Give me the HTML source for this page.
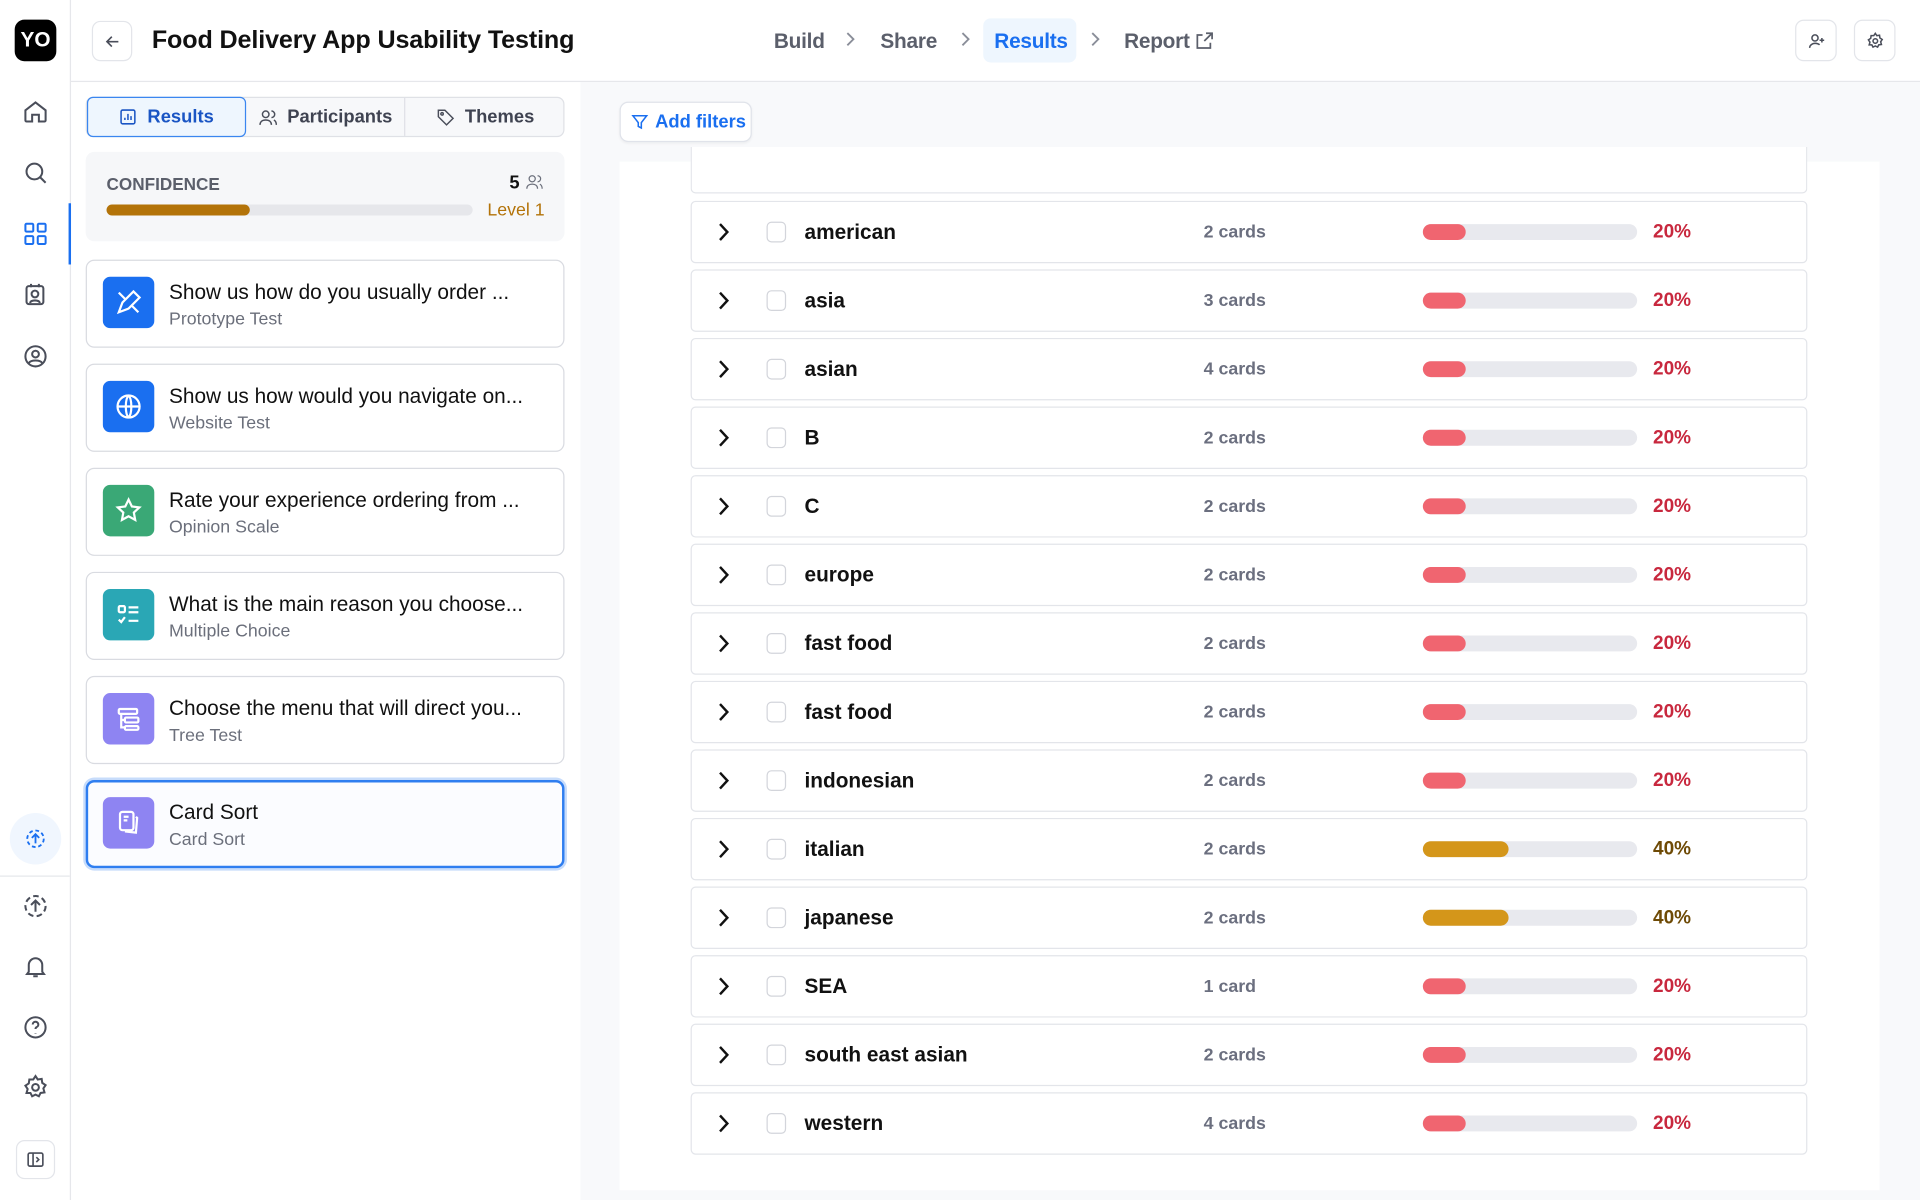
<!DOCTYPE html>
<html><head><meta charset="utf-8"><style>
*{box-sizing:border-box;margin:0;padding:0}
html,body{width:1920px;height:1200px;overflow:hidden;background:#fff}
body{font-family:"Liberation Sans",sans-serif;color:#111}
#w{position:absolute;left:0;top:0;width:1568px;height:980px;transform:scale(1.22449);transform-origin:0 0;background:#fff}
.a{position:absolute}
.ic{position:absolute;width:22px;height:22px}
.tab{position:absolute;top:79px;height:33px;font-size:15px;font-weight:bold;color:#3f4351;display:flex;align-items:center;justify-content:center;gap:8px}
.card{position:absolute;left:70px;width:391px;height:72px;border:1px solid #d9dbe1;border-radius:7px;background:#fff}
.card .sq{position:absolute;left:13px;top:13px;width:42px;height:42px;border-radius:6px;display:flex;align-items:center;justify-content:center}
.card .t{position:absolute;left:67px;top:16px;font-size:17px;color:#111;white-space:nowrap}
.card .s{position:absolute;left:67px;top:40px;font-size:14.5px;color:#6b6f7b}
.row{position:absolute;left:564px;width:912px;height:51px;border:1px solid #e3e5ea;border-radius:4px;background:#fff}
.row .ch{position:absolute;left:20px;top:16px}
.row .cb{position:absolute;left:61px;top:16px;width:16px;height:17px;border:1px solid #d3d5db;border-radius:4px}
.row .n{position:absolute;left:92px;top:15px;font-size:17px;font-weight:bold;color:#111}
.row .c{position:absolute;left:418px;top:17px;font-size:14.5px;font-weight:bold;color:#6b6f7f}
.row .bar{position:absolute;left:597px;top:18px;width:175px;height:13px;border-radius:7px;background:#e8e9ee}
.row .bar i{position:absolute;left:0;top:0;height:13px;border-radius:7px}
.row .p{position:absolute;left:785px;top:16px;font-size:15.5px;font-weight:bold}
.sep{position:absolute;top:24px;width:10px;height:16px}
</style></head><body><div id="w">
<div class="a" style="left:57px;top:0;width:1px;height:980px;background:#e6e7eb"></div>
<div class="a" style="left:12px;top:16px;width:34px;height:34px;background:#000;border-radius:8px;color:#fff;font-weight:bold;font-size:17px;display:flex;align-items:center;justify-content:center">YO</div>
<svg class="ic" style="left:18px;top:80px" viewBox="0 0 24 24" fill="none" stroke="#4a4e5a" stroke-width="1.8"><path d="M3 11l9-7 9 7v9a1 1 0 0 1-1 1h-5v-6h-6v6H4a1 1 0 0 1-1-1z"/></svg>
<svg class="ic" style="left:18px;top:130px" viewBox="0 0 24 24" fill="none" stroke="#4a4e5a" stroke-width="1.8"><circle cx="11" cy="11" r="7"/><path d="M16 16l5 5"/></svg>
<svg class="ic" style="left:18px;top:180px" viewBox="0 0 24 24" fill="none" stroke="#1a6ff0" stroke-width="1.8"><rect x="3" y="3" width="7" height="7" rx="1"/><rect x="14" y="3" width="7" height="7" rx="1"/><rect x="3" y="14" width="7" height="7" rx="1"/><rect x="14" y="14" width="7" height="7" rx="1"/></svg>
<div class="a" style="left:56px;top:166px;width:2px;height:50px;background:#1a6ff0"></div>
<svg class="ic" style="left:18px;top:230px" viewBox="0 0 24 24" fill="none" stroke="#4a4e5a" stroke-width="1.8"><rect x="4" y="4" width="15" height="16" rx="2"/><circle cx="11.5" cy="11" r="3"/><path d="M7 19c1-3 8-3 9 0M8 2v3M15 2v3"/></svg>
<svg class="ic" style="left:18px;top:280px" viewBox="0 0 24 24" fill="none" stroke="#4a4e5a" stroke-width="1.8"><circle cx="12" cy="12" r="9"/><circle cx="12" cy="10" r="3"/><path d="M6 18c2-3 10-3 12 0"/></svg>
<div class="a" style="left:8px;top:664px;width:42px;height:42px;border-radius:50%;background:#f0f6fe"></div>
<svg class="a" style="left:20px;top:676px;width:18px;height:18px" viewBox="0 0 24 24" fill="none" stroke="#1a6ff0" stroke-width="2"><circle cx="12" cy="12" r="9" stroke-dasharray="4 3"/><path d="M12 17V8M8 11l4-4 4 4"/></svg>
<div class="a" style="left:0;top:715px;width:57px;height:1px;background:#e6e7eb"></div>
<svg class="ic" style="left:18px;top:729px" viewBox="0 0 24 24" fill="none" stroke="#4a4e5a" stroke-width="1.8"><circle cx="12" cy="12" r="9" stroke-dasharray="5 3"/><path d="M12 17V8M8 11l4-4 4 4"/></svg>
<svg class="ic" style="left:18px;top:778px" viewBox="0 0 24 24" fill="none" stroke="#4a4e5a" stroke-width="1.8"><path d="M6 17V11a6 6 0 0 1 12 0v6l1.5 2h-15zM10 21h4"/></svg>
<svg class="ic" style="left:18px;top:828px" viewBox="0 0 24 24" fill="none" stroke="#4a4e5a" stroke-width="1.8"><circle cx="12" cy="12" r="9"/><path d="M9.5 9.5a2.5 2.5 0 1 1 3.5 2.3c-.7.4-1 1-1 1.7M12 17v.5"/></svg>
<svg class="ic" style="left:18px;top:877px" viewBox="0 0 24 24" fill="none" stroke="#4a4e5a" stroke-width="1.8"><circle cx="12" cy="12" r="3"/><path d="M12 2l2 3 3.5-.5.5 3.5 3 2-2 3 1 3.5-3.5.5-1.5 3-3-1.5-3 1.5-1.5-3L4 17l1-3.5-2-3 3-2L6.5 5 10 5z"/></svg>
<div class="a" style="left:13px;top:931px;width:32px;height:32px;border:1px solid #e3e5ea;border-radius:7px"></div>
<svg class="a" style="left:21px;top:939px;width:16px;height:16px" viewBox="0 0 24 24" fill="none" stroke="#4a4e5a" stroke-width="2"><rect x="3" y="4" width="18" height="16" rx="2"/><path d="M9 4v16M13 9l3 3-3 3"/></svg>
<div class="a" style="left:58px;top:66px;width:1510px;height:1px;background:#e6e7eb"></div>
<div class="a" style="left:75px;top:17px;width:33px;height:33px;border:1px solid #e3e5ea;border-radius:7px;display:flex;align-items:center;justify-content:center"><svg width="16" height="16" viewBox="0 0 24 24" fill="none" stroke="#4a4e5a" stroke-width="2"><path d="M19 12H5M11 6l-6 6 6 6"/></svg></div>
<div class="a" style="left:124px;top:21px;font-size:20.5px;font-weight:bold;color:#111;letter-spacing:-0.1px">Food Delivery App Usability Testing</div>
<div class="a" style="left:632px;top:24px;font-size:17px;font-weight:bold;color:#5b5f6b;letter-spacing:-0.2px">Build</div>
<svg class="sep" style="left:689px" viewBox="0 0 10 16" fill="none" stroke="#8a8e99" stroke-width="1.5"><path d="M3 3l5 5-5 5"/></svg>
<div class="a" style="left:719px;top:24px;font-size:17px;font-weight:bold;color:#5b5f6b;letter-spacing:-0.2px">Share</div>
<svg class="sep" style="left:783px" viewBox="0 0 10 16" fill="none" stroke="#8a8e99" stroke-width="1.5"><path d="M3 3l5 5-5 5"/></svg>
<div class="a" style="left:803px;top:15px;width:76px;height:36px;background:#eef6fe;border-radius:6px"></div>
<div class="a" style="left:812px;top:24px;font-size:17px;font-weight:bold;color:#1a6ff0;letter-spacing:-0.2px">Results</div>
<svg class="sep" style="left:889px" viewBox="0 0 10 16" fill="none" stroke="#8a8e99" stroke-width="1.5"><path d="M3 3l5 5-5 5"/></svg>
<div class="a" style="left:918px;top:24px;font-size:17px;font-weight:bold;color:#5b5f6b;letter-spacing:-0.2px">Report</div>
<svg class="a" style="left:975px;top:25px;width:17px;height:17px" viewBox="0 0 24 24" fill="none" stroke="#5b5f6b" stroke-width="2"><path d="M14 3h7v7M21 3l-9 9M19 14v6H4V5h6"/></svg>
<div class="a" style="left:1466px;top:16px;width:34px;height:34px;border:1px solid #e3e5ea;border-radius:7px;display:flex;align-items:center;justify-content:center"><svg width="15" height="15" viewBox="0 0 24 24" fill="none" stroke="#4a4e5a" stroke-width="2"><circle cx="10" cy="8" r="4"/><path d="M3 21c0-4 4-6 7-6s5 1 6 2M19 8v6M16 11h6"/></svg></div>
<div class="a" style="left:1514px;top:16px;width:34px;height:34px;border:1px solid #e3e5ea;border-radius:7px;display:flex;align-items:center;justify-content:center"><svg width="15" height="15" viewBox="0 0 24 24" fill="none" stroke="#4a4e5a" stroke-width="2"><circle cx="12" cy="12" r="3"/><path d="M12 2l2 3 3.5-.5.5 3.5 3 2-2 3 1 3.5-3.5.5-1.5 3-3-1.5-3 1.5-1.5-3L4 17l1-3.5-2-3 3-2L6.5 5 10 5z"/></svg></div>
<div class="a" style="left:70px;top:79px;width:391px;height:33px;border:1px solid #dfe1e6;border-radius:6px;background:#f7f8fa"></div>
<div class="a" style="left:71px;top:79px;width:130px;height:33px;border:1.5px solid #3a86f0;border-radius:5px;background:#eef6fe"></div>
<div class="a" style="left:330px;top:80px;width:1px;height:31px;background:#dfe1e6"></div>
<div class="tab" style="left:71px;width:130px;color:#1a55c4"><svg width="15" height="15" viewBox="0 0 24 24" fill="none" stroke="#1a55c4" stroke-width="2"><rect x="3" y="3" width="18" height="18" rx="2"/><path d="M8 16v-3M12 16V8M16 16v-5"/></svg>Results</div>
<div class="tab" style="left:201px;width:129px"><svg width="16" height="16" viewBox="0 0 24 24" fill="none" stroke="#4a4e5a" stroke-width="1.8"><circle cx="9" cy="8" r="4"/><path d="M2 21c0-4 3-6 7-6s7 2 7 6M16 4a4 4 0 0 1 0 8M19 15c2 1 3 3 3 6"/></svg>Participants</div>
<div class="tab" style="left:331px;width:130px"><svg width="16" height="16" viewBox="0 0 24 24" fill="none" stroke="#4a4e5a" stroke-width="1.8"><path d="M3 3h8l10 10-8 8L3 11z"/><circle cx="7.5" cy="7.5" r="1.5"/></svg>Themes</div>
<div class="a" style="left:70px;top:124px;width:391px;height:73px;background:#f6f7f9;border-radius:7px"></div>
<div class="a" style="left:87px;top:142px;font-size:14px;font-weight:bold;color:#5b5f6b">CONFIDENCE</div>
<div class="a" style="left:416px;top:141px;font-size:15px;font-weight:bold;color:#111">5</div>
<svg class="a" style="left:429px;top:141px;width:15px;height:15px" viewBox="0 0 24 24" fill="none" stroke="#6b6f7b" stroke-width="1.6"><circle cx="9" cy="8" r="4"/><path d="M2 21c0-4 3-6 7-6s7 2 7 6M16 4a4 4 0 0 1 0 8M19 15c2 1 3 3 3 6"/></svg>
<div class="a" style="left:87px;top:167px;width:299px;height:9px;border-radius:5px;background:#e6e7eb"></div>
<div class="a" style="left:87px;top:167px;width:117px;height:9px;border-radius:5px;background:#b37309"></div>
<div class="a" style="left:398px;top:164px;font-size:14.5px;color:#b37309">Level 1</div>

<div class="card" style="top:212px"><div class="sq" style="background:#1a6ff0"><svg width="24" height="24" viewBox="0 0 24 24" fill="none" stroke="#fff" stroke-width="1.8"><path d="M4 20l3-8 9-9 5 5-9 9zM4 4l6 6M14 14l6 6"/></svg></div><div class="t">Show us how do you usually order ...</div><div class="s">Prototype Test</div></div>
<div class="card" style="top:297px"><div class="sq" style="background:#1a6ff0"><svg width="24" height="24" viewBox="0 0 24 24" fill="none" stroke="#fff" stroke-width="1.8"><circle cx="12" cy="12" r="9"/><path d="M3 12h18M12 3c3 3 3 15 0 18M12 3c-3 3-3 15 0 18"/></svg></div><div class="t">Show us how would you navigate on...</div><div class="s">Website Test</div></div>
<div class="card" style="top:382px"><div class="sq" style="background:#3aa876"><svg width="24" height="24" viewBox="0 0 24 24" fill="none" stroke="#fff" stroke-width="1.8"><path d="M12 3l2.7 5.6 6.1.8-4.5 4.2 1.1 6-5.4-3-5.4 3 1.1-6L3.2 9.4l6.1-.8z"/></svg></div><div class="t">Rate your experience ordering from ...</div><div class="s">Opinion Scale</div></div>
<div class="card" style="top:467px"><div class="sq" style="background:#2aa7b5"><svg width="24" height="24" viewBox="0 0 24 24" fill="none" stroke="#fff" stroke-width="1.8"><rect x="4" y="5" width="5" height="5" rx="1"/><path d="M12 6h8M12 10h8M4 16l2 2 3-4M12 17h8"/></svg></div><div class="t">What is the main reason you choose...</div><div class="s">Multiple Choice</div></div>
<div class="card" style="top:552px"><div class="sq" style="background:#8e84f2"><svg width="24" height="24" viewBox="0 0 24 24" fill="none" stroke="#fff" stroke-width="1.8"><rect x="4" y="4" width="15" height="4" rx="1"/><rect x="9" y="11" width="11" height="4" rx="1"/><rect x="9" y="18" width="11" height="3" rx="1"/><path d="M6 8v11h3M6 13h3"/></svg></div><div class="t">Choose the menu that will direct you...</div><div class="s">Tree Test</div></div>
<div class="card" style="top:637px;border:2px solid #2f7ef0;box-shadow:0 0 0 2px #c7dcfb;background:#fbfcff"><div class="sq" style="background:#8e84f2;left:12px;top:12px"><svg width="24" height="24" viewBox="0 0 24 24" fill="none" stroke="#fff" stroke-width="1.8"><rect x="5" y="3" width="11" height="15" rx="2"/><path d="M8 7h4M8 10h3M18 7l1 1-1 12-9-1"/></svg></div><div class="t" style="left:66px;top:15px">Card Sort</div><div class="s" style="left:66px;top:39px">Card Sort</div></div>
<div class="a" style="left:474px;top:67px;width:1094px;height:913px;background:#f8f9fb"></div>
<div class="a" style="left:506px;top:83px;width:108px;height:33px;background:#fff;border:1px solid #e0e3ea;border-radius:7px;box-shadow:0 1px 2px rgba(0,0,0,.05)"></div>
<svg class="a" style="left:515px;top:92px;width:15px;height:15px" viewBox="0 0 24 24" fill="none" stroke="#1a6ff0" stroke-width="2"><path d="M3 4h18l-7 9v7l-4-2v-5z"/></svg>
<div class="a" style="left:535px;top:91px;font-size:15px;font-weight:bold;color:#1a6ff0">Add filters</div>
<div class="a" style="left:506px;top:132px;width:1029px;height:840px;background:#fff"></div>
<div class="a" style="left:564px;top:120px;width:912px;height:38px;border:1px solid #e3e5ea;border-top:none;border-radius:0 0 4px 4px;background:#fff"></div>
<div id="rows"></div>
</div>
<script>
var d=[["american","2 cards",20],["asia","3 cards",20],["asian","4 cards",20],["B","2 cards",20],["C","2 cards",20],["europe","2 cards",20],["fast food","2 cards",20],["fast food","2 cards",20],["indonesian","2 cards",20],["italian","2 cards",40],["japanese","2 cards",40],["SEA","1 card",20],["south east asian","2 cards",20],["western","4 cards",20]];
var h="";
d.forEach(function(r,i){var g=r[2]==40;
h+='<div class="row" style="top:'+(164+i*56)+'px"><svg class="ch" width="12" height="17" viewBox="0 0 12 17" fill="none" stroke="#111" stroke-width="2"><path d="M3 2l6 6.5L3 15"/></svg><div class="cb"></div><div class="n">'+r[0]+'</div><div class="c">'+r[1]+'</div><div class="bar"><i style="width:'+(g?70:35)+'px;background:'+(g?'#d4961a':'#f06570')+'"></i></div><div class="p" style="color:'+(g?'#6e4a05':'#c8283e')+'">'+r[2]+'%</div></div>';});
document.getElementById("rows").outerHTML=h;
</script>
</body></html>
